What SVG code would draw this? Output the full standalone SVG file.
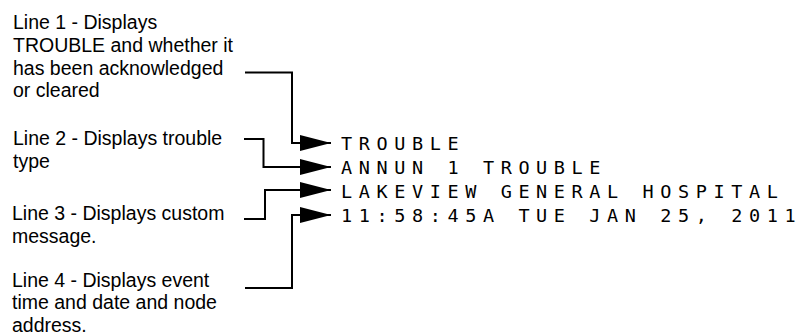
<svg xmlns="http://www.w3.org/2000/svg" width="804" height="336" viewBox="0 0 804 336">
<style>
.lbl{font-family:"Liberation Sans",Arial,sans-serif;font-size:19.5px;fill:#000}
.lcd{font-family:"DejaVu Sans Mono","Liberation Mono",monospace;font-size:18.5px;letter-spacing:6.6px;fill:#000}
.conn{fill:none;stroke:#000;stroke-width:2}
</style>
<defs>
<marker id="arr" markerUnits="userSpaceOnUse" viewBox="0 0 31 16" refX="31" refY="8" markerWidth="31" markerHeight="16" orient="auto">
<path d="M0,0 L31,8 L0,16 z" fill="#000"/>
</marker>
</defs>
<rect width="804" height="336" fill="#fff"/>
<g id="label1">
<text class="lbl" x="13" y="29.3">Line 1 - Displays</text>
<text class="lbl" x="13" y="52">TROUBLE and whether it</text>
<text class="lbl" x="13" y="74.7">has been acknowledged</text>
<text class="lbl" x="13" y="97.4">or cleared</text>
</g>
<g id="label2">
<text class="lbl" x="13" y="145">Line 2 - Displays trouble</text>
<text class="lbl" x="13" y="167.7">type</text>
</g>
<g id="label3">
<text class="lbl" x="12" y="220">Line 3 - Displays custom</text>
<text class="lbl" x="12" y="242.7">message.</text>
</g>
<g id="label4">
<text class="lbl" x="12" y="286.7">Line 4 - Displays event</text>
<text class="lbl" x="12" y="309.4">time and date and node</text>
<text class="lbl" x="12" y="332">address.</text>
</g>
<g id="display">
<text class="lcd" x="341" y="149.5">TROUBLE</text>
<text class="lcd" x="341" y="173.5">ANNUN 1 TROUBLE</text>
<text class="lcd" x="341" y="197.5">LAKEVIEW GENERAL HOSPITAL</text>
<text class="lcd" x="341" y="221.5">11:58:45A TUE JAN 25, 2011</text>
</g>
<g id="connectors">
<path class="conn" d="M245,72.5 H292 V143 H331" marker-end="url(#arr)"/>
<path class="conn" d="M244,139 H263.5 V167 H331" marker-end="url(#arr)"/>
<path class="conn" d="M244,219 H265 V190 H331" marker-end="url(#arr)"/>
<path class="conn" d="M245,288 H292 V215 H331" marker-end="url(#arr)"/>
</g>
</svg>
